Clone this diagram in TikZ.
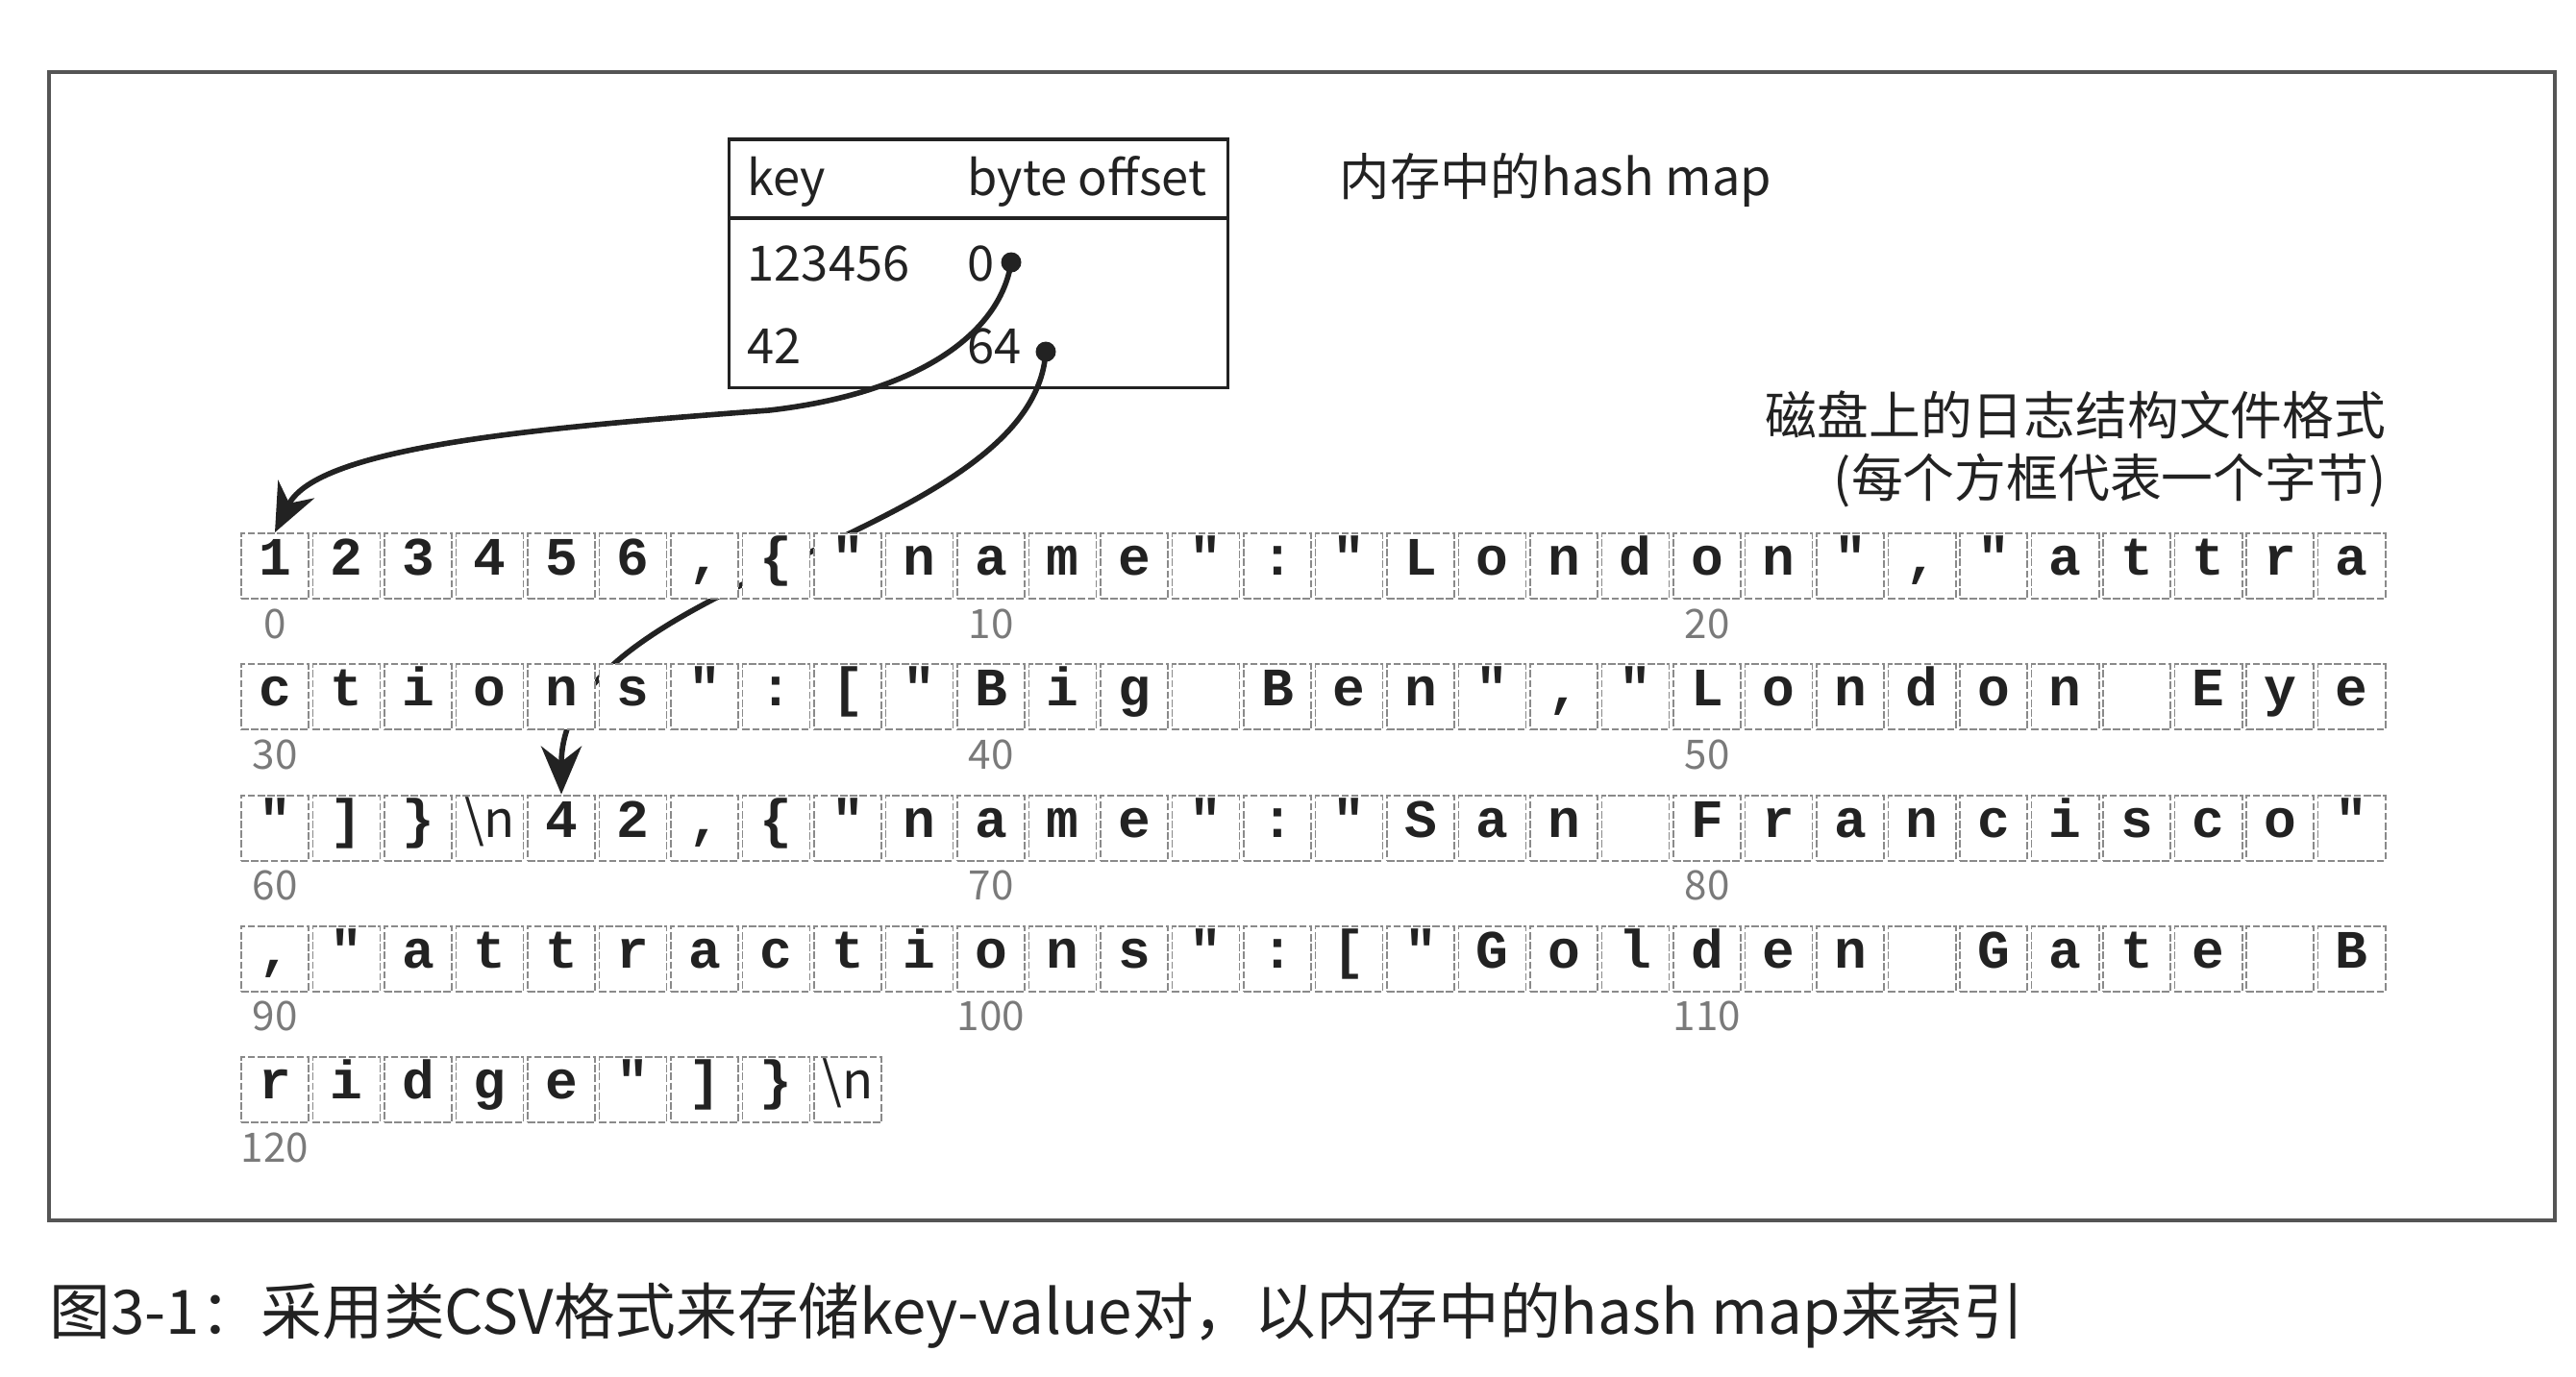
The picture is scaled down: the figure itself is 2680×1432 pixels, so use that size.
\documentclass[tikz,border=0pt]{standalone}
\usepackage{fontspec}
\newfontfamily\cjk{Noto Sans CJK SC}
\newfontfamily\mono{Liberation Mono}
\usetikzlibrary{arrows.meta,backgrounds}
\definecolor{ink}{HTML}{222222}
\definecolor{framegray}{HTML}{555555}
\definecolor{cellgray}{HTML}{8A8A8A}
\definecolor{idxgray}{HTML}{7A7A7A}
\tikzset{
  cellbox/.style={draw=cellgray, line width=0.55pt, dash pattern=on 2.2pt off 0.7pt,
    fill=white, minimum width=0.70cm, minimum height=0.68cm, inner sep=0pt,
    text height=0.6em, text depth=0.05em,
    font=\mono\bfseries\fontsize{16pt}{18pt}\selectfont, text=ink},
  nlfont/.style={font=\cjk\fontsize{15pt}{18pt}\selectfont},
  idxlabel/.style={font=\cjk\fontsize{12pt}{14pt}\selectfont, text=idxgray, anchor=base, inner sep=0pt},
  hmtext/.style={font=\cjk\fontsize{14.4pt}{18pt}\selectfont, text=ink, anchor=base west, inner sep=0pt},
  lbltext/.style={font=\cjk\fontsize{15.3pt}{18pt}\selectfont, text=ink, inner sep=0pt},
  ptr/.style={draw=ink, line width=1.6pt, -{Stealth[length=0.5cm,width=0.42cm]}},
  dotn/.style={circle, fill=ink, inner sep=0pt, minimum size=0.21cm},
}
\newcommand\bytecell[2]{%
  \pgfmathtruncatemacro\bcrow{floor((#1+0.5)/30)}%
  \pgfmathtruncatemacro\bccol{#1-30*\bcrow}%
  \node[cellbox] (c#1) at ({286+74.5*\bccol},{589+136.3*\bcrow}) {#2};}
\newcommand\nlcell[1]{%
  \pgfmathtruncatemacro\bcrow{floor((#1+0.5)/30)}%
  \pgfmathtruncatemacro\bccol{#1-30*\bcrow}%
  \node[cellbox, nlfont] (c#1) at ({286+74.5*\bccol},{589+136.3*\bcrow}) {\textbackslash n};}
\newcommand\idxlab[1]{\node[idxlabel] (l#1) at ([yshift=-0.40cm]c#1.south) {#1};}
\begin{document}
\begin{tikzpicture}[x=0.01cm,y=-0.01cm]
\useasboundingbox (0,0) rectangle (2680,1432);
% outer frame
\draw[framegray, line width=0.9pt] (51,75) rectangle (2658,1270);
% hash map box
\node[draw=ink, line width=0.9pt, minimum width=5.18cm, minimum height=2.58cm, inner sep=0pt] (hm) at (1018,274) {};
\coordinate (hl) at (759,227);
\coordinate (hr) at (1277,227);
\draw[ink, line width=0.9pt] (hl) -- (hr);
\node[hmtext] (tkey) at (777,203) {key};
\node[hmtext] (toff) at (1006,203) {byte offset};
\node[hmtext] (tk1) at (777,292) {123456};
\node[hmtext] (to1) at (1006,292) {0};
\node[hmtext] (tk2) at (777,378) {42};
\node[hmtext] (to2) at (1006,378) {64};
\node[dotn] (d0) at (1052,273) {};
\node[dotn] (d1) at (1088,366) {};
\node[lbltext, anchor=base west, font=\cjk\fontsize{14.9pt}{18pt}\selectfont] (title) at (1393,203) {内存中的hash map};
\node[lbltext, anchor=base east] (disk1) at (2483,452) {磁盘上的日志结构文件格式};
\node[lbltext, anchor=base east] (disk2) at (2483,517) {(每个方框代表一个字节)};
% row 0
\bytecell{0}{1}\bytecell{1}{2}\bytecell{2}{3}\bytecell{3}{4}\bytecell{4}{5}\bytecell{5}{6}
\bytecell{6}{,}\bytecell{7}{\{}\bytecell{8}{"}\bytecell{9}{n}\bytecell{10}{a}\bytecell{11}{m}
\bytecell{12}{e}\bytecell{13}{"}\bytecell{14}{:}\bytecell{15}{"}\bytecell{16}{L}\bytecell{17}{o}
\bytecell{18}{n}\bytecell{19}{d}\bytecell{20}{o}\bytecell{21}{n}\bytecell{22}{"}\bytecell{23}{,}
\bytecell{24}{"}\bytecell{25}{a}\bytecell{26}{t}\bytecell{27}{t}\bytecell{28}{r}\bytecell{29}{a}
% row 1
\bytecell{30}{c}\bytecell{31}{t}\bytecell{32}{i}\bytecell{33}{o}\bytecell{34}{n}\bytecell{35}{s}
\bytecell{36}{"}\bytecell{37}{:}\bytecell{38}{[}\bytecell{39}{"}\bytecell{40}{B}\bytecell{41}{i}
\bytecell{42}{g}\bytecell{43}{}\bytecell{44}{B}\bytecell{45}{e}\bytecell{46}{n}\bytecell{47}{"}
\bytecell{48}{,}\bytecell{49}{"}\bytecell{50}{L}\bytecell{51}{o}\bytecell{52}{n}\bytecell{53}{d}
\bytecell{54}{o}\bytecell{55}{n}\bytecell{56}{}\bytecell{57}{E}\bytecell{58}{y}\bytecell{59}{e}
% row 2
\bytecell{60}{"}\bytecell{61}{]}\bytecell{62}{\}}\nlcell{63}\bytecell{64}{4}\bytecell{65}{2}
\bytecell{66}{,}\bytecell{67}{\{}\bytecell{68}{"}\bytecell{69}{n}\bytecell{70}{a}\bytecell{71}{m}
\bytecell{72}{e}\bytecell{73}{"}\bytecell{74}{:}\bytecell{75}{"}\bytecell{76}{S}\bytecell{77}{a}
\bytecell{78}{n}\bytecell{79}{}\bytecell{80}{F}\bytecell{81}{r}\bytecell{82}{a}\bytecell{83}{n}
\bytecell{84}{c}\bytecell{85}{i}\bytecell{86}{s}\bytecell{87}{c}\bytecell{88}{o}\bytecell{89}{"}
% row 3
\bytecell{90}{,}\bytecell{91}{"}\bytecell{92}{a}\bytecell{93}{t}\bytecell{94}{t}\bytecell{95}{r}
\bytecell{96}{a}\bytecell{97}{c}\bytecell{98}{t}\bytecell{99}{i}\bytecell{100}{o}\bytecell{101}{n}
\bytecell{102}{s}\bytecell{103}{"}\bytecell{104}{:}\bytecell{105}{[}\bytecell{106}{"}\bytecell{107}{G}
\bytecell{108}{o}\bytecell{109}{l}\bytecell{110}{d}\bytecell{111}{e}\bytecell{112}{n}\bytecell{113}{}
\bytecell{114}{G}\bytecell{115}{a}\bytecell{116}{t}\bytecell{117}{e}\bytecell{118}{}\bytecell{119}{B}
% row 4
\bytecell{120}{r}\bytecell{121}{i}\bytecell{122}{d}\bytecell{123}{g}\bytecell{124}{e}\bytecell{125}{"}
\bytecell{126}{]}\bytecell{127}{\}}\nlcell{128}
% index labels
\idxlab{0}\idxlab{10}\idxlab{20}
\idxlab{30}\idxlab{40}\idxlab{50}
\idxlab{60}\idxlab{70}\idxlab{80}
\idxlab{90}\idxlab{100}\idxlab{110}
\idxlab{120}
% caption
\node[font=\cjk\fontsize{18.1pt}{22pt}\selectfont, text=ink, anchor=base west, inner sep=0pt] (cap) at (51,1388) {图3-1：采用类CSV格式来存储key-value对，以内存中的hash map来索引};
% pointers
\begin{pgfonlayer}{background}
\draw[ptr] (d0.center) .. controls (1040,350) and (950,410) .. (800,427)
   .. controls (560,445) and (330,465) .. (c0.north);
\draw[ptr] (d1.center) .. controls (1075,560) and (584,600) .. (c64.north);
\end{pgfonlayer}
\end{tikzpicture}
\end{document}
